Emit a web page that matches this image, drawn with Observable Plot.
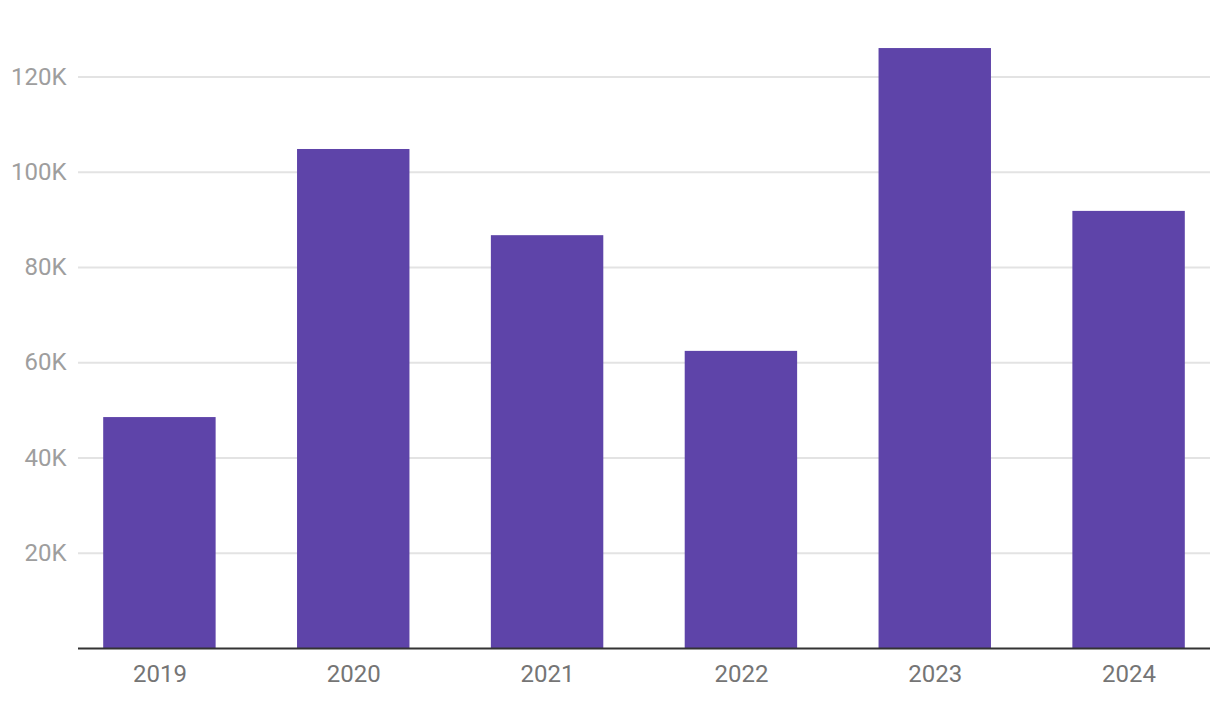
<!DOCTYPE html>
<html>
<head>
<meta charset="utf-8">
<script src="https://cdn.jsdelivr.net/npm/d3@7"></script>
<script src="https://cdn.jsdelivr.net/npm/@observablehq/plot@0.6"></script>
<style>
  html, body { margin: 0; padding: 0; background: #fff; }
  #chart svg { display: block; font-family: Roboto, sans-serif; }
</style>
</head>
<body>
<div id="chart"></div>
<script>
const years = ["2019", "2020", "2021", "2022", "2023", "2024"];
const values = [48500, 104800, 86700, 62400, 126000, 91800];
const yTicks = [20000, 40000, 60000, 80000, 100000, 120000];

const data = years.map((y, i) => ({year: y, value: values[i]}));

const chart = Plot.plot({
  width: 1220,
  height: 704,
  marginTop: 29,
  marginBottom: 56,
  marginLeft: 78,
  marginRight: 10,
  style: {fontFamily: "Roboto, sans-serif", fontSize: "24px", background: "#fff"},
  x: {domain: years, paddingInner: 0.42, paddingOuter: 0.13, round: false, label: null},
  y: {domain: [0, 130000], label: null},
  marks: [
    Plot.ruleY(yTicks, {stroke: "#e3e3e3", strokeWidth: 2}),
    Plot.barY(data, {x: "year", y: "value", fill: "#5e44a9"}),
    Plot.ruleY([0], {stroke: "#333", strokeWidth: 2}),
    Plot.axisY(yTicks, {tickSize: 0, tickPadding: 12, tickFormat: d => d / 1000 + "K", fill: "#9e9e9e", label: null, fontSize: 24}),
    Plot.axisX({tickSize: 0, tickPadding: 16, fill: "#757575", label: null, fontSize: 24})
  ]
});
document.getElementById("chart").append(chart);
</script>
</body>
</html>
